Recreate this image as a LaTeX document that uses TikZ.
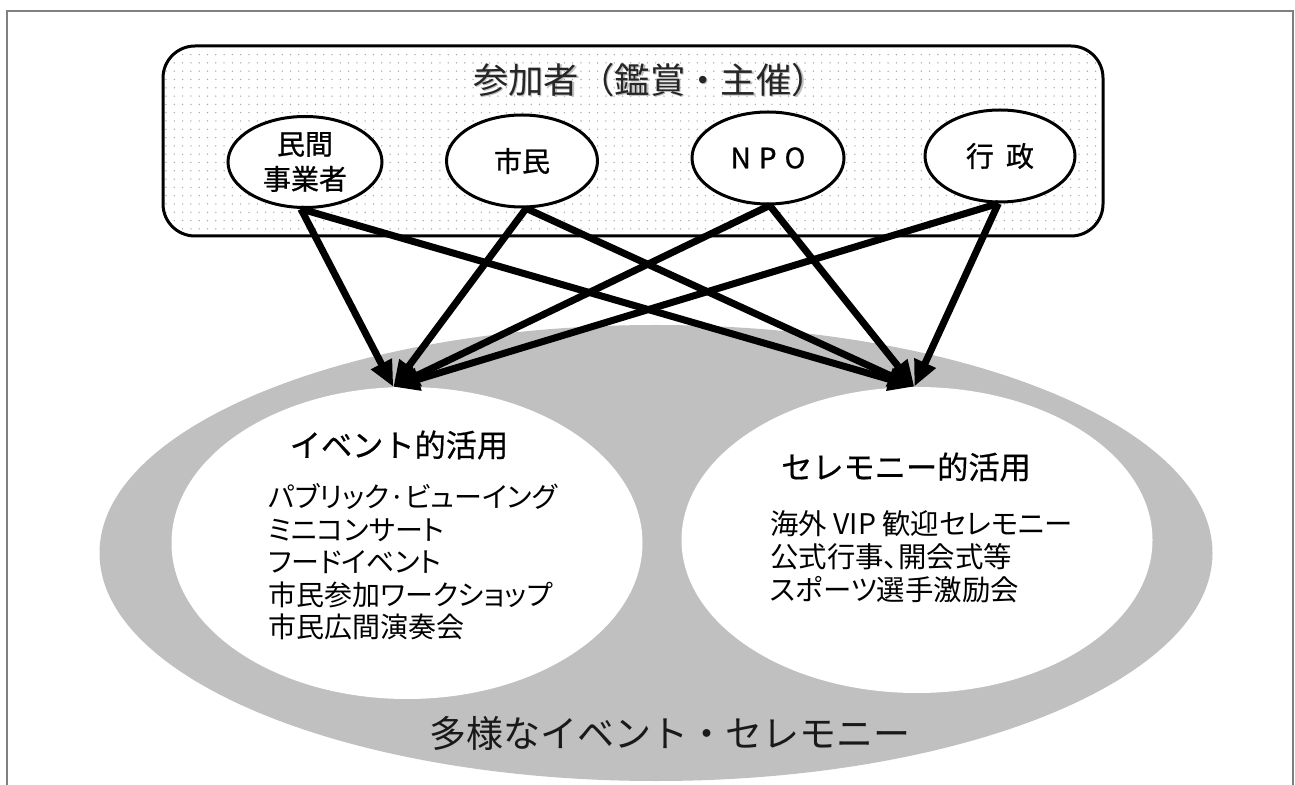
\documentclass[tikz,border=0pt]{standalone}
\usepackage{fontspec}
\setmainfont{Noto Sans CJK JP}
\newfontfamily\jpp[RawFeature=+palt]{Noto Sans CJK JP}
\newfontfamily\jpb[FakeBold=0.9]{Noto Sans CJK JP}
\newfontfamily\jph[FakeBold=0.5]{Noto Sans CJK JP}
\usetikzlibrary{shapes.geometric,arrows.meta,patterns.meta}
\definecolor{stagegray}{HTML}{C0C0C0}
\definecolor{framegray}{HTML}{808080}
\tikzset{
  participant/.style={ellipse, draw, line width=1.5pt, fill=white, inner sep=0pt,
    minimum width=76pt, minimum height=46pt, align=center,
    font=\jpb\fontsize{14pt}{17.5pt}\selectfont},
  flow/.style={line width=3.5pt, -{Triangle[length=13pt,width=11pt]}},
  partbox/.style={draw, line width=1.5pt, rounded corners=16pt,
    pattern={Dots[distance=4.15pt,radius=0.38pt]}, pattern color=black!35},
  blob/.style={ellipse, inner sep=0pt},
  heading/.style={font=\jph\fontsize{15.6pt}{18pt}\selectfont, inner sep=0pt},
  listtext/.style={align=left, inner sep=0pt, anchor=west},
  bigtext/.style={inner sep=0pt},
}
\begin{document}
\begin{tikzpicture}[x=0.5pt,y=-0.5pt]
\useasboundingbox (0,0) rectangle (1295,785);
% frame
\draw[framegray, line width=0.8pt] (7,800) -- (7,11) -- (1293,11) -- (1293,800);
% stage
\node[blob, fill=stagegray, minimum width=556.5pt, minimum height=228pt] (stage) at (656,553) {};
\node[blob, fill=white, minimum width=235.5pt, minimum height=156pt] (ev) at (407,543) {};
\node[blob, fill=white, minimum width=235.5pt, minimum height=153pt] (ce) at (917,540) {};
\node[bigtext, text=black!25, font=\fontsize{18.5pt}{22pt}\selectfont] (stageshadow) at (671,734.5) {多様なイベント・セレモニー};
\node[bigtext, text=black!90, font=\fontsize{18.5pt}{22pt}\selectfont] (stagetitle) at (670,733) {多様なイベント・セレモニー};
% event side
\node[heading] (evh) at (399,445) {イベント的活用};
\node[listtext, font=\jpp\fontsize{14pt}{16.25pt}\selectfont] (evl) at (268,562)
  {パブリック·ビューイング\\ミニコンサート\\フードイベント\\市民参加ワークショップ\\市民広間演奏会};
% ceremony side
\node[heading] (ceh) at (906,467) {セレモニー的活用};
\node[listtext, font=\jpp\fontsize{14.2pt}{16.6pt}\selectfont] (cel) at (770,557)
  {海外 VIP 歓迎セレモニー\\公式行事、開会式等\\スポーツ選手激励会};
% participants
\node[partbox, minimum width=470pt, minimum height=95pt] (part) at (633,141) {};
\node[bigtext, text=black!25, font=\fontsize{17.7pt}{20pt}\selectfont] (titleshadow) at (651.5,81.5) {参加者（鑑賞・主催）};
\node[bigtext, text=black!85, font=\fontsize{17.7pt}{20pt}\selectfont] (title) at (650,80) {参加者（鑑賞・主催）};
\node[participant, minimum width=77pt, minimum height=45.5pt] (m) at (305,162) {民間\\事業者};
\node[participant, minimum width=75.5pt] (s) at (522,161) {市民};
\node[participant] (n) at (768,158) {N\hspace{4pt}P\hspace{4pt}O};
\node[participant, minimum width=75pt] (g) at (1000,156) {行\hspace{6pt}政};
% flows
\draw[flow] (m.265) -- (ev.95);
\draw[flow] (m.265) -- (ce.91);
\draw[flow] (s.275) -- (ev.95);
\draw[flow] (s.275) -- (ce.91);
\draw[flow] (n.272) -- (ev.95);
\draw[flow] (n.272) -- (ce.91);
\draw[flow] (g.268) -- (ev.95);
\draw[flow] (g.268) -- (ce.91);
\end{tikzpicture}
\end{document}
